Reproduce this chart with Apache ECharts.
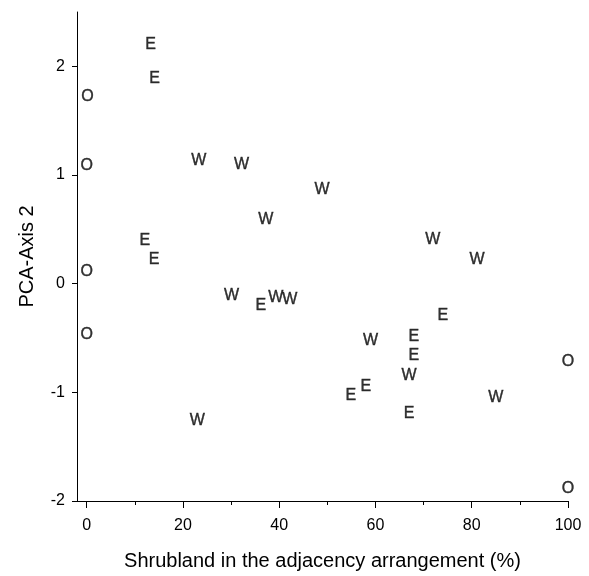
<!DOCTYPE html>
<html>
<head>
<meta charset="utf-8">
<script src="https://cdn.jsdelivr.net/npm/echarts@6/dist/echarts.min.js"></script>
<style>
html, body { margin: 0; padding: 0; background: #fff; }
#chart { width: 589px; height: 576px; }
</style>
</head>
<body>
<div id="chart"></div>
<script>
// points per group: [shrubland %, PCA axis 2]
var groupE = [
    [13.3, 2.20], [14.1, 1.89], [12.1, 0.40], [14.0, 0.22], [36.2, -0.20],
    [74.0, -0.29], [68.0, -0.49], [68.0, -0.66], [58.0, -0.95], [54.9, -1.03],
    [67.0, -1.20]
];
var groupW = [
    [23.3, 1.13], [32.2, 1.10], [48.9, 0.87], [37.2, 0.59], [71.9, 0.41],
    [81.1, 0.22], [30.1, -0.11], [39.3, -0.13], [42.2, -0.15], [59.0, -0.52],
    [67.0, -0.85], [85.0, -1.05], [23.0, -1.26]
];
var groupO = [
    [0.2, 1.72], [0.0, 1.09], [0.0, 0.11], [0.0, -0.47], [100, -0.72], [100, -1.89]
];
var xMajorTicks = [0, 20, 40, 60, 80, 100];
var xMinorTicks = [10, 30, 50, 70, 90];
var yTicks = [-2, -1, 0, 1, 2];

var font = 'Liberation Sans, Arial, sans-serif';
var myChart = echarts.init(document.getElementById('chart'));

function letterSeries(name, data) {
    return {
        type: 'scatter',
        name: name,
        data: data,
        symbolSize: 2,
        itemStyle: {color: 'rgba(0,0,0,0)'},
        label: {
            show: true,
            position: 'inside',
            formatter: name,
            color: '#000',
            fontFamily: font,
            fontSize: 16,
            textBorderColor: '#000',
            textBorderWidth: 0.4
        },
        silent: true
    };
}

myChart.setOption({
    animation: false,
    grid: {left: 77, right: 21, top: 12, bottom: 73},
    xAxis: [{
        type: 'value',
        min: -2,
        max: 100,
        splitLine: {show: false},
        axisLine: {show: true, onZero: false, lineStyle: {color: '#000', width: 1}},
        axisTick: {show: true, length: 7, customValues: xMajorTicks, lineStyle: {color: '#000'}},
        axisLabel: {customValues: xMajorTicks, color: '#000', fontFamily: font, fontSize: 16, margin: 17},
        name: 'Shrubland in the adjacency arrangement (%)',
        nameLocation: 'middle',
        nameGap: 50,
        nameTextStyle: {color: '#000', fontFamily: font, fontSize: 20}
    }, {
        type: 'value',
        position: 'bottom',
        min: -2,
        max: 100,
        splitLine: {show: false},
        axisLine: {show: false, onZero: false},
        axisTick: {show: true, length: 4, customValues: xMinorTicks, lineStyle: {color: '#000'}},
        axisLabel: {show: false}
    }],
    yAxis: {
        type: 'value',
        min: -2,
        max: 2.5,
        splitLine: {show: false},
        axisLine: {show: true, onZero: false, lineStyle: {color: '#000', width: 1}},
        axisTick: {show: true, length: 5, customValues: yTicks, lineStyle: {color: '#000'}},
        axisLabel: {customValues: yTicks, color: '#000', fontFamily: font, fontSize: 16, margin: 12},
        name: 'PCA-Axis 2',
        nameLocation: 'middle',
        nameGap: 40,
        nameTextStyle: {color: '#000', fontFamily: font, fontSize: 20}
    },
    series: [
        letterSeries('E', groupE),
        letterSeries('W', groupW),
        letterSeries('O', groupO)
    ]
});
</script>
</body>
</html>
